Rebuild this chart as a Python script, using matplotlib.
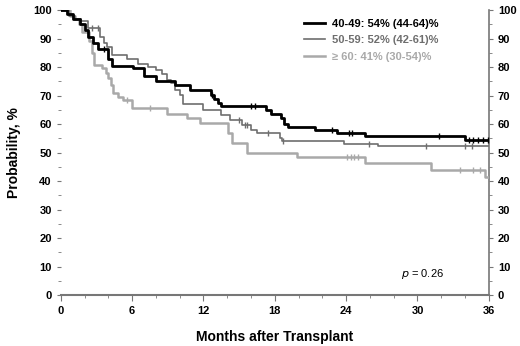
# Kaplan-Meier style survival curves by age group

import numpy as np
import matplotlib.pyplot as plt
from matplotlib.ticker import MultipleLocator

plt.rcParams['font.family'] = ['Liberation Sans', 'DejaVu Sans']

# step curves: time (months) of each step and probability (%) after it
t_4049 = [0, 0.5, 1.0, 1.6, 2.0, 2.3, 2.7, 3.1, 4.0, 4.3, 6.1, 7.0, 8.0, 9.6, 10.9,
          12.6, 12.9, 13.2, 13.5, 17.3, 17.7, 18.5, 18.8, 19.1, 21.4, 23.2, 25.6, 34.0]
s_4049 = [100, 98.5, 97, 95, 93, 90.5, 88.3, 86.5, 83, 80.5, 79.5, 77, 75, 73.8, 72,
          70.2, 68.8, 67.5, 66.5, 65, 63.7, 62, 60, 59, 58, 56.8, 55.8, 54.5]
c_4049 = [3.6, 12.7, 16.0, 16.3, 22.8, 24.2, 24.5, 31.8, 34.3, 34.7, 35.1, 35.5, 35.9]

t_5059 = [0, 0.7, 1.2, 1.7, 2.3, 3.3, 3.6, 3.9, 4.3, 5.6, 6.5, 7.3, 8.0, 8.5, 8.9, 9.3,
          9.6, 10.0, 10.3, 12.0, 13.5, 14.2, 15.2, 16.0, 16.5, 18.4, 18.6, 23.8, 26.7]
s_5059 = [100, 98, 97, 96, 93.8, 90.6, 88.3, 87, 84.2, 83, 81, 80, 79, 77.5, 75.4, 74.3,
          72, 70.2, 67, 65, 63.2, 61.4, 59.6, 57.9, 57, 55, 54, 53, 52.2]
c_5059 = [2.6, 3.1, 15.0, 15.5, 15.7, 17.4, 18.7, 25.9, 30.7, 34.0, 34.6]

t_60 = [0, 0.8, 1.2, 1.5, 1.8, 2.4, 2.6, 2.8, 3.5, 3.8, 4.0, 4.2, 4.4, 4.8, 5.2, 6.0,
        8.9, 10.6, 11.7, 14.1, 14.4, 15.7, 19.9, 25.6, 31.1, 35.7]
s_60 = [100, 98, 97, 95, 92.4, 89, 85, 80.7, 79.5, 78, 76, 73.7, 71, 69.6, 68.4, 65.5,
        63.5, 62, 60.3, 56.8, 53.3, 49.8, 48.3, 46.2, 43.9, 41.5]
c_60 = [5.6, 7.5, 24.1, 24.4, 24.7, 25.0, 33.6, 34.7, 35.3]

labels = ['40-49: 54% (44-64)%', '50-59: 52% (42-61)%', '\u2265 60: 41% (30-54)%']
colors = ['#000000', '#6e6e6e', '#a9a9a9']
widths = [2.0, 1.2, 1.8]


def at(t, s, x):
    i = np.searchsorted(t, x, side='right') - 1
    return np.array(s)[i]


fig = plt.figure(figsize=(5.2, 3.46), dpi=100)
ax = fig.add_axes([0.117, 0.147, 0.823, 0.824])

groups = [(t_4049, s_4049, c_4049), (t_5059, s_5059, c_5059), (t_60, s_60, c_60)]
for k in [2, 1, 0]:
    t, s, c = groups[k]
    tt = list(t) + [36]
    ss = list(s) + [s[-1]]
    ax.step(tt, ss, where='post', color=colors[k], lw=widths[k], label=labels[k],
            zorder=3 - k * 0.1)
    ax.plot(c, at(t, s, c), '|', color=colors[k], ms=5, mew=1.0, zorder=3)

ax.set_xlim(0, 36)
ax.set_ylim(0, 100)
ax.xaxis.set_major_locator(MultipleLocator(6))
ax.xaxis.set_minor_locator(MultipleLocator(2))
ax.yaxis.set_major_locator(MultipleLocator(10))
ax.yaxis.set_minor_locator(MultipleLocator(5))

for sp in ['top', 'left']:
    ax.spines[sp].set_visible(False)
ax.spines['bottom'].set_color('#777777')
ax.spines['bottom'].set_linewidth(1.5)
ax.spines['right'].set_color('#777777')
ax.spines['right'].set_linewidth(1.2)

ax.tick_params(axis='y', which='both', left=True, right=True, labelleft=True,
               labelright=True, direction='out', color='#777777', labelsize=8)
ax.tick_params(axis='y', which='major', length=3)
ax.tick_params(axis='y', which='minor', length=2)
ax.tick_params(axis='x', which='both', direction='out', color='#777777', labelsize=8, pad=4)
ax.tick_params(axis='x', which='major', length=4)
ax.tick_params(axis='x', which='minor', length=2.5)
for lab in ax.get_xticklabels() + ax.get_yticklabels():
    lab.set_fontweight('bold')

ax.set_xlabel('Months after Transplant', fontsize=10, fontweight='bold', labelpad=10)
ax.set_ylabel('Probability, %', fontsize=10, fontweight='bold', labelpad=9)

h, l = ax.get_legend_handles_labels()
leg = ax.legend(h[::-1], l[::-1], loc='upper left', bbox_to_anchor=(0.545, 1.005),
                frameon=False, prop={'size': 8, 'weight': 'bold'},
                handlelength=1.9, handletextpad=0.6, labelspacing=0.6)
for txt, col in zip(leg.get_texts(), colors):
    txt.set_color(col)

ax.text(28.6, 6.5, r'$p$ = 0.26', fontsize=8)

fig.savefig('out.png', dpi=100)
